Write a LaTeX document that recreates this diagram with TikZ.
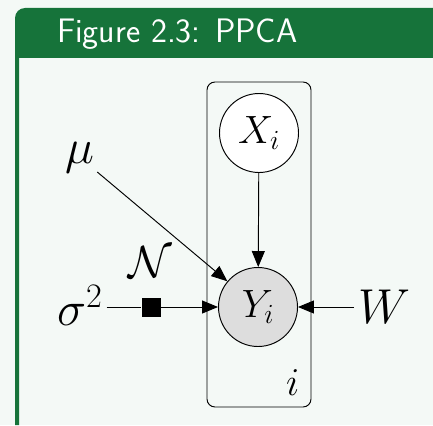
\RequirePackage{fix-cm}
\documentclass[tikz,border=0pt]{standalone}
\usepackage{fontspec}
\usetikzlibrary{arrows.meta,calc}
\definecolor{hdrgreen}{HTML}{16733A}
\definecolor{paper}{HTML}{F4F9F6}
\definecolor{obsgray}{HTML}{DDDDDD}
\tikzset{
  conn/.style={line width=0.95pt},
  arr/.style={conn,-{Triangle[length=16pt,width=13pt]}},
  latent/.style={circle,draw,line width=0.95pt,minimum size=79pt,inner sep=0pt,fill=white,font=\fontsize{39.5}{45}\selectfont},
  observed/.style={latent,fill=obsgray},
  bigmath/.style={inner sep=0pt,font=\fontsize{49}{56}\selectfont},
  factor/.style={rectangle,fill=black,minimum size=19pt,inner sep=0pt},
  plate/.style={draw,line width=0.95pt,rounded corners=8pt}
}
\begin{document}
\begin{tikzpicture}[x=1pt,y=1pt]
\useasboundingbox (0,0) rectangle (433,-425);
\fill[paper] (0,0) rectangle (433,-425);
% frame
\fill[hdrgreen] (15,-425) -- (15,-18) arc[start angle=180,end angle=90,radius=10] -- (433,-8) -- (433,-58) -- (19,-58) -- (19,-425) -- cycle;
\node[anchor=base west,inner sep=0pt,text=white,font=\fontsize{34}{40}\selectfont\sffamily] (title) at (57,-43) {Figure 2.3: PPCA};
% plate
\draw[plate] (207,-82) rectangle (311,-407);
\node[anchor=base west,inner sep=0pt,font=\fontsize{39.5}{45}\selectfont] (plabel) at (286,-395) {$i$};
% nodes
\node[latent] (X) at (259,-133) {$X_i$};
\node[observed] (Y) at (258,-307) {$Y_i$};
\node[factor] (fac) at (151,-307) {};
\node[bigmath,anchor=base,font=\fontsize{45}{52}\selectfont] (N) at (150,-277) {$\mathcal{N}$};
\node[bigmath,anchor=base west,inner sep=4pt] (sig) at (53,-325) {$\sigma^2$};
\node[bigmath,anchor=base west,inner sep=4pt] (W) at (354,-323) {$W$};
\node[bigmath,anchor=base west,inner sep=3pt] (mu) at (62,-163) {$\mu$};
% edges
\draw[arr] (X) -- (Y);
\draw[conn] (sig.east |- fac) -- (fac);
\draw[arr] (fac) -- (Y);
\draw[arr] (W.west |- Y) -- (Y);
\draw[arr] (mu) -- (Y);
\end{tikzpicture}
\end{document}
